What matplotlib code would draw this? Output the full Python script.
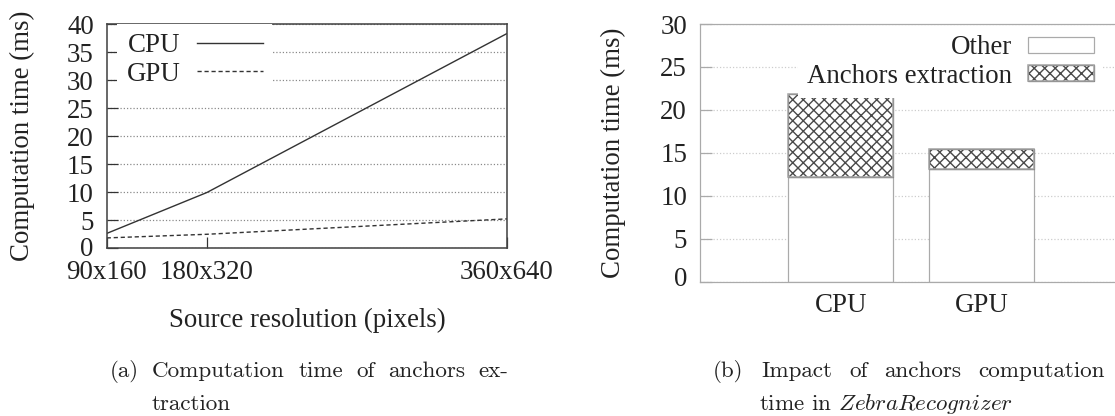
import matplotlib
matplotlib.use("Agg")
import matplotlib.pyplot as plt
import matplotlib.transforms as mtransforms
from matplotlib.patches import Patch
from matplotlib.legend_handler import HandlerTuple

# left panel: anchors extraction time per source resolution
resolutions = ["90x160", "180x320", "360x640"]
res_pos = [0, 1, 4]
cpu_time = [2.6, 9.9, 38.3]
gpu_time = [1.8, 2.45, 5.2]

# right panel: stacked time split
devices = ["CPU", "GPU"]
other_time = [12.2, 13.1]
anchors_time = [9.7, 2.35]

DPI = 126
W, H = 1115, 416

plt.rcParams["font.family"] = ["Liberation Serif", "DejaVu Serif"]
plt.rcParams["mathtext.fontset"] = "cm"
plt.rcParams["hatch.linewidth"] = 0.8
plt.rcParams["axes.unicode_minus"] = False

TXT = "#222222"
FS = 15.4

fig = plt.figure(figsize=(W / DPI, H / DPI), dpi=DPI)


def px_box(x0, y0, x1, y1):
    return [x0 / W, 1 - y1 / H, (x1 - x0) / W, (y1 - y0) / H]


def lift_zero_label(ax, px):
    # nudge the "0" tick label up a little, off the corner
    lab = ax.yaxis.get_major_ticks()[0].label1
    lab.set_transform(lab.get_transform() +
                      mtransforms.ScaledTranslation(0, px / DPI, fig.dpi_scale_trans))


# ---- (a) line chart ----
ax1 = fig.add_axes(px_box(106.7, 24, 507, 248))
ax1.plot(res_pos, cpu_time, color="#333333", lw=0.8, label="CPU")
ax1.plot(res_pos, gpu_time, color="#333333", lw=0.8, ls=(0, (3, 2)), label="GPU")
ax1.set_xlim(res_pos[0], res_pos[-1])
ax1.set_ylim(0, 40)
ax1.set_yticks(range(0, 41, 5))
ax1.set_xticks(res_pos)
ax1.set_xticklabels(resolutions)
ax1.tick_params(direction="in", length=6.3, width=0.7, color="#333333",
                labelsize=FS, labelcolor=TXT, top=False, right=False)
ax1.tick_params(axis="y", pad=7.4)
ax1.tick_params(axis="x", pad=7.0)
ax1.grid(axis="y", color="#888888", ls=":", lw=0.7)
ax1.grid(axis="x", visible=False)
for s in ax1.spines.values():
    s.set_color("#444444")
    s.set_linewidth(0.9)
ax1.set_ylabel("Computation time (ms)", fontsize=FS, color=TXT, va="center")
ax1.yaxis.set_label_coords((22 - 106.7) / 400.3, 0.5)
ax1.set_xlabel("Source resolution (pixels)", fontsize=FS, color=TXT, va="center")
ax1.xaxis.set_label_coords(0.5, -(320 - 248) / 224)
lift_zero_label(ax1, 2)
leg1 = ax1.legend(loc="upper right", bbox_to_anchor=((272 - 106.7) / 400.3, 1.0),
                  borderaxespad=0, markerfirst=False, fontsize=FS,
                  handlelength=2.45, handletextpad=0.6, labelspacing=0.12,
                  borderpad=0.35, frameon=True, fancybox=False, framealpha=1)
leg1.get_frame().set_edgecolor("none")
for t in leg1.get_texts():
    t.set_color(TXT)

# ---- (b) stacked bar chart ----
ax2 = fig.add_axes(px_box(700, 24, 1122, 281.7))
xpos = [1, 2]
ax2.bar(xpos, other_time, width=0.75, color="white", edgecolor="#aaaaaa",
        linewidth=0.7, zorder=2)
# hatched part: dark hatch first, light outline drawn over it
ax2.bar(xpos, anchors_time, bottom=other_time, width=0.75, color="white",
        edgecolor="#4a4a4a", linewidth=0.7, hatch="xxxx", zorder=2)
ax2.bar(xpos, anchors_time, bottom=other_time, width=0.75, fill=False,
        edgecolor="#aaaaaa", linewidth=0.9, zorder=3)
ax2.set_xlim(0, 3)
ax2.set_ylim(0, 30)
ax2.set_yticks(range(0, 31, 5))
ax2.set_xticks(xpos)
ax2.set_xticklabels(devices)
ax2.tick_params(axis="y", direction="in", length=6.8, width=0.7, color="#aaaaaa",
                labelsize=FS, labelcolor=TXT, pad=7.4, right=False)
ax2.tick_params(axis="x", length=0, labelsize=FS, labelcolor=TXT, pad=6.6)
ax2.grid(axis="y", color="#cccccc", ls=":", lw=0.7, zorder=0)
ax2.set_axisbelow(True)
for s in ax2.spines.values():
    s.set_color("#aaaaaa")
    s.set_linewidth(0.7)
ax2.spines["right"].set_visible(False)
ax2.set_ylabel("Computation time (ms)", fontsize=FS, color=TXT, va="center")
ax2.yaxis.set_label_coords((613 - 700) / 422, 0.5)
lift_zero_label(ax2, 5)

h_other = Patch(facecolor="white", edgecolor="#aaaaaa", linewidth=0.7)
h_hatch = Patch(facecolor="white", edgecolor="#4a4a4a", linewidth=0.7, hatch="xxxx")
h_edge = Patch(fill=False, edgecolor="#aaaaaa", linewidth=0.9)
leg2 = ax2.legend([h_other, (h_hatch, h_edge)], ["Other", "Anchors extraction"],
                  handler_map={tuple: HandlerTuple(ndivide=1, pad=0)},
                  loc="upper right", bbox_to_anchor=((1103 - 700) / 422, 0.992),
                  borderaxespad=0, markerfirst=False, fontsize=FS,
                  handlelength=2.45, handleheight=0.5, handletextpad=0.56,
                  labelspacing=0.12, borderpad=0.35, frameon=True, fancybox=False,
                  framealpha=1)
leg2.get_frame().set_edgecolor("none")
for t in leg2.get_texts():
    t.set_color(TXT)

# ---- captions, justified like the surrounding text ----
CAP = dict(family="cmr10", fontsize=13.2, color=TXT, va="baseline")


def justify(words, x0, x1, y):
    texts = [fig.text(0, 1 - y / H, w, **CAP) for w in words]
    r = fig.canvas.get_renderer()
    widths = [t.get_window_extent(r).width for t in texts]
    gap = (x1 - x0 - sum(widths)) / max(len(words) - 1, 1)
    x = x0
    for t, w in zip(texts, widths):
        t.set_x(x / W)
        x += w + gap


fig.text(110 / W, 1 - 377 / H, "(a)", **CAP)
justify(["Computation", "time", "of", "anchors", "ex-"], 152, 508, 377)
fig.text(152 / W, 1 - 410 / H, "traction", **CAP)

fig.text(713 / W, 1 - 377 / H, "(b)", **CAP)
justify(["Impact", "of", "anchors", "computation"], 761, 1105, 377)
fig.text(759 / W, 1 - 410 / H, r"time in $\mathit{ZebraRecognizer}$", **CAP)

fig.savefig("out.png", dpi=DPI)
